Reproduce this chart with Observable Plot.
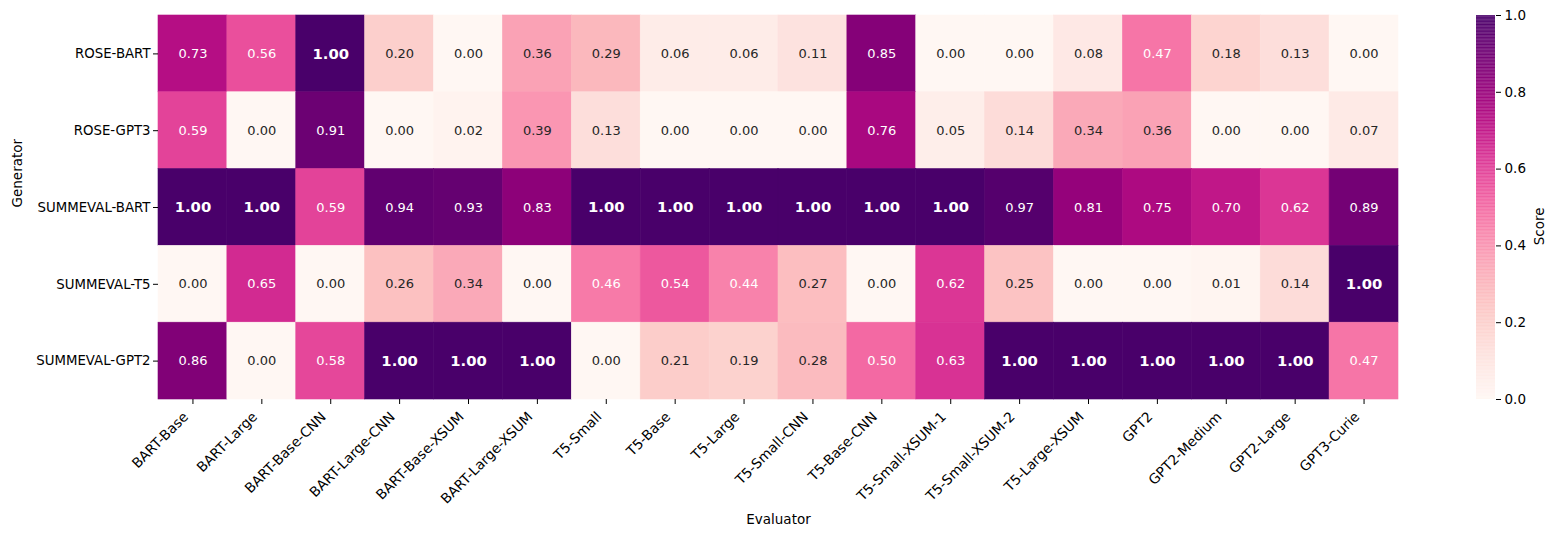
<!DOCTYPE html>
<html>
<head>
<meta charset="utf-8">
<script src="https://cdn.jsdelivr.net/npm/d3@7"></script>
<script src="https://cdn.jsdelivr.net/npm/@observablehq/plot@0.6"></script>
<style>
  html, body { margin: 0; padding: 0; background: white; }
  #wrap { position: relative; width: 1556px; height: 537px; font-family: "DejaVu Sans", sans-serif; }
  #wrap > div, #wrap > svg { position: absolute; top: 0; }
</style>
</head>
<body>
<div id="wrap"></div>
<script>
const evaluators = ["BART-Base", "BART-Large", "BART-Base-CNN", "BART-Large-CNN", "BART-Base-XSUM", "BART-Large-XSUM",
  "T5-Small", "T5-Base", "T5-Large", "T5-Small-CNN", "T5-Base-CNN", "T5-Small-XSUM-1", "T5-Small-XSUM-2",
  "T5-Large-XSUM", "GPT2", "GPT2-Medium", "GPT2-Large", "GPT3-Curie"];
const generators = ["ROSE-BART", "ROSE-GPT3", "SUMMEVAL-BART", "SUMMEVAL-T5", "SUMMEVAL-GPT2"];

const roseBart     = [0.73, 0.56, 1.00, 0.20, 0.00, 0.36, 0.29, 0.06, 0.06, 0.11, 0.85, 0.00, 0.00, 0.08, 0.47, 0.18, 0.13, 0.00];
const roseGpt3     = [0.59, 0.00, 0.91, 0.00, 0.02, 0.39, 0.13, 0.00, 0.00, 0.00, 0.76, 0.05, 0.14, 0.34, 0.36, 0.00, 0.00, 0.07];
const summevalBart = [1.00, 1.00, 0.59, 0.94, 0.93, 0.83, 1.00, 1.00, 1.00, 1.00, 1.00, 1.00, 0.97, 0.81, 0.75, 0.70, 0.62, 0.89];
const summevalT5   = [0.00, 0.65, 0.00, 0.26, 0.34, 0.00, 0.46, 0.54, 0.44, 0.27, 0.00, 0.62, 0.25, 0.00, 0.00, 0.01, 0.14, 1.00];
const summevalGpt2 = [0.86, 0.00, 0.58, 1.00, 1.00, 1.00, 0.00, 0.21, 0.19, 0.28, 0.50, 0.63, 1.00, 1.00, 1.00, 1.00, 1.00, 0.47];

const colorbarTicks = [0, 0.2, 0.4, 0.6, 0.8, 1.0];

const rows = [roseBart, roseGpt3, summevalBart, summevalT5, summevalGpt2];
const data = [];
rows.forEach((vals, i) => vals.forEach((v, j) => data.push({generator: generators[i], evaluator: evaluators[j], score: v})));

function textColor(v) {
  const c = d3.rgb(d3.interpolateRdPu(v));
  const lin = x => { x /= 255; return x <= 0.03928 ? x / 12.92 : Math.pow((x + 0.055) / 1.055, 2.4); };
  const lum = 0.2126 * lin(c.r) + 0.7152 * lin(c.g) + 0.0722 * lin(c.b);
  return lum > 0.408 ? "#262626" : "white";
}

const font = "DejaVu Sans";
const wrap = document.getElementById("wrap");

const main = Plot.plot({
  width: 1556,
  height: 537,
  marginLeft: 158,
  marginRight: 158,
  marginTop: 15,
  marginBottom: 138,
  style: {fontFamily: font, fontSize: "13.5px", background: "transparent", color: "#000"},
  x: {domain: evaluators, padding: 0, round: false, label: null},
  y: {domain: generators, padding: 0, round: false, label: null},
  color: {type: "linear", scheme: "RdPu", domain: [0, 1]},
  marks: [
    Plot.cell(data, {x: "evaluator", y: "generator", fill: "score", stroke: "score", strokeWidth: 0.6, inset: 0}),
    Plot.text(data.filter(d => d.score < 1), {x: "evaluator", y: "generator", text: d => d.score.toFixed(2),
      fill: d => textColor(d.score), fontSize: 13}),
    Plot.text(data.filter(d => d.score >= 1), {x: "evaluator", y: "generator", text: d => d.score.toFixed(2),
      fill: d => textColor(d.score), fontSize: 14.8, fontWeight: "bold"}),
    Plot.axisX({tickSize: 5, text: null, label: null}),
    Plot.axisX({tickSize: 0, tickRotate: -45, tickPadding: 8, label: null, fontSize: 13.8, dx: -7, dy: 7}),
    Plot.axisY({tickSize: 5, tickPadding: 3, label: null, fontSize: 13.3}),
    Plot.text(["Evaluator"], {frameAnchor: "bottom", dy: 124, text: d => d, fontSize: 13.5}),
    Plot.text(["Generator"], {frameAnchor: "left", dx: -141, rotate: -90, text: d => d, fontSize: 13.5})
  ]
});
main.style.left = "0px";
wrap.appendChild(main);

const ramp = d3.range(0, 1, 0.002).map(v => ({v0: v, v1: Math.min(1, v + 0.0025)}));
const bar = Plot.plot({
  width: 80,
  height: 537,
  marginLeft: 0,
  marginRight: 61,
  marginTop: 15,
  marginBottom: 138,
  style: {fontFamily: font, fontSize: "13.5px", background: "transparent", color: "#000"},
  x: {domain: [0, 1], axis: null},
  y: {domain: [0, 1], label: null},
  color: {type: "linear", scheme: "RdPu", domain: [0, 1]},
  marks: [
    Plot.rect(ramp, {x1: 0, x2: 1, y1: "v0", y2: "v1", fill: "v0"}),
    Plot.axisY({anchor: "right", ticks: colorbarTicks, tickFormat: d3.format(".1f"), tickSize: 5, tickPadding: 4, label: null, fontSize: 13.5}),
    Plot.text(["Score"], {frameAnchor: "right", dx: 44, rotate: -90, text: d => d, fontSize: 13.5})
  ]
});
bar.style.left = "1476px";
wrap.appendChild(bar);
</script>
</body>
</html>
